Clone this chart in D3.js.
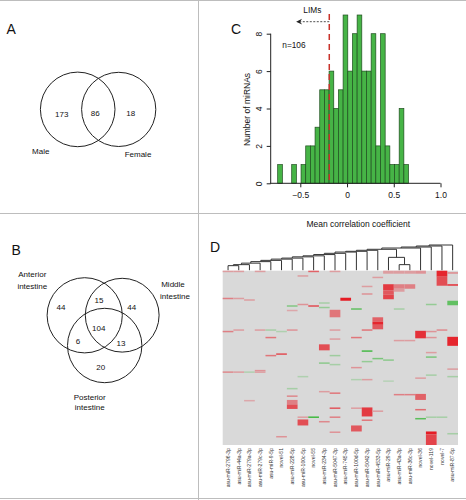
<!DOCTYPE html>
<html><head><meta charset="utf-8">
<script src="https://cdn.jsdelivr.net/npm/d3@7"></script>
<style>
body{margin:0;background:#fff}
svg{display:block}
text{font-family:"Liberation Sans",Arial,Helvetica,sans-serif}
</style>
</head><body>
<svg id="c" width="466" height="500"></svg>
<script>
// ---------------- DATA ----------------
// Panel A: Venn of miRNAs by sex
const vennASets = ["Male", "Female"];
const vennARegions = ["Male only", "Both", "Female only"];
const vennACounts = [173, 86, 18];

// Panel B: Venn by intestine region
const vennBSets = [["Anterior", "intestine"], ["Middle", "intestine"], ["Posterior", "intestine"]];
const vennBRegions = ["A", "M", "P", "AM", "AP", "MP", "AMP"];
const vennBCounts = [44, 44, 20, 15, 6, 13, 104];

// Panel C: histogram of mean correlation coefficient
const histBinLower = [-0.742,-0.692,-0.642,-0.592,-0.542,-0.492,-0.442,-0.392,-0.342,-0.292,
  -0.242,-0.192,-0.142,-0.092,-0.042,0.008,0.058,0.108,0.158,0.208,0.258,0.308,0.358,0.408,
  0.458,0.508,0.558,0.608];
const histBinWidth = 0.05;
const histCounts = [1,0,0,1,0,1,2,2,3,5,5,6,4,5,9,6,8,9,6,6,8,2,8,2,1,1,4,1];
const histXTicks = [-0.5, 0, 0.5, 1.0];
const histYTicks = [0, 2, 4, 6, 8];
const limThreshold = -0.19;
const limArrowTo = -0.545;
const nLabel = "n=106";

// Panel D: heatmap
const heatCols = ["asu-miR-2796-3p","asu-miR-44a-3p","asu-miR-279a-3p","asu-miR-279c-3p","asu-miR-9-5p",
  "novel-51","asu-miR-228-5p","asu-miR-100c-5p","novel-55","asu-miR-234-3p","asu-miR-5047-3p",
  "asu-miR-745-3p","asu-miR-100d-5p","asu-miR-5042-3p","asu-miR-4533-5p","asu-miR-29-3p",
  "asu-miR-43a-3p","asu-miR-36c-3p","novel-36","novel-119","novel-7","asu-miR-87-5p"];
const heatRowCount = 116;
// sparse cells: column index, first row, number of rows, value (+ red / - green)
const cellCol = [0,0,0,0, 1,3,8,10,15,16,17,18,20,20,21,7,14,21,13,15,15,15,16,17,16,13,1,2,11,21,19,7,8,9,6,9,12,6,16,10,
  14,14,14,1,3,4,5,6,10,13,20,18,19,4,12,19,10,16,17,21,9,13,19,5,4,10,19,14,15,13,9,10,12,3,21,1,21,13,
  2,3,7,19,12,15,18,6,9,10,16,17,18,6,6,6,2,10,12,13,14,18,7,8,10,18,19,20,7,13,9,12,10,19,19,21,5];
const cellRow = [0,18,40,67, 0,0,0,0,0,0,0,0,0,4,1,3,4,9,10,9,13,16,9,9,12,15,18,19,18,20,22,22,23,21,23,24,25,26,25,26,
  31,34,36,39,39,39,40,39,39,39,39,40,40,44,44,44,45,46,46,44,49,53,54,55,56,56,57,58,59,60,61,62,64,66,65,67,70,72,
  67,67,70,69,72,73,71,78,80,81,82,82,82,83,86,89,86,91,91,91,93,92,97,97,97,98,97,97,99,99,100,103,107,107,109,108,110];
const cellSpan = [1,1,1,1, 1,1,1,1,2,2,2,2,4,6,1,1,1,1,1,4,3,3,3,3,2,1,1,1,2,3,1,1,1,1,1,1,1,1,1,5,
  3,2,3,1,1,1,1,1,1,1,1,5,1,1,1,1,1,1,1,6,4,1,1,1,1,1,1,1,1,1,1,1,1,1,1,1,1,1,
  1,1,1,1,1,1,1,1,1,1,1,1,4,1,3,3,1,1,1,6,1,1,1,1,1,1,1,1,4,1,1,4,1,2,7,1,1];
const cellVal = [0.3,0.45,0.45,0.4, 0.3,0.3,0.6,0.3,0.3,0.3,0.3,0.35,0.9,0.7,0.4,0.3,0.3,0.85,0.3,0.8,0.65,0.75,0.45,0.45,0.3,0.35,0.3,0.3,0.95,-0.7,-0.4,0.35,0.7,-0.3,-0.5,-0.4,-0.7,0.25,-0.3,0.5,
  0.6,0.9,0.65,0.3,0.3,-0.3,-0.25,0.35,0.3,0.5,0.4,0.85,0.35,0.5,0.5,0.35,0.3,0.3,0.3,0.9,0.7,-0.85,0.3,0.7,0.5,-0.35,-0.55,-0.55,-0.45,-0.4,-0.45,-0.3,0.35,0.35,0.3,0.3,-0.3,0.3,
  -0.25,0.3,-0.25,-0.3,-0.25,-0.2,0.3,-0.3,0.3,0.5,0.45,0.45,0.6,0.4,0.45,0.7,0.25,0.65,0.3,0.8,0.3,0.55,0.3,-0.9,0.45,-0.75,-0.3,-0.3,0.7,0.5,0.4,0.65,0.35,0.95,0.75,-0.3,0.35];

// Column dendrogram (R hclust style): negative = leaf index+1, positive = merge number
const dendMergeL = [-1,1,2,3,4,5,6,7,8,9,10,11,12,13,-17,-16,14,17,18,19,20];
const dendMergeR = [-2,-3,-4,-5,-6,-7,-8,-9,-10,-11,-12,-13,-14,-15,-18,15,16,-19,-20,-21,-22];
const dendHeight = [0.18,0.22,0.28,0.34,0.39,0.44,0.48,0.53,0.57,0.62,0.67,0.72,0.75,0.79,0.22,0.51,0.83,0.88,0.92,0.96,1.0];

// ---------------- DRAW ----------------
const svg = d3.select("#c");
const ink = "#222";

// panel dividers
const dividers = [[0,0.5,466,0.5],[0,213.5,466,213.5],[0,498.5,466,498.5],[198.5,0,198.5,500]];
svg.selectAll("line.div").data(dividers).join("line").attr("class","div")
  .attr("x1",d=>d[0]).attr("y1",d=>d[1]).attr("x2",d=>d[2]).attr("y2",d=>d[3])
  .attr("stroke","#bdbdbd").attr("stroke-width",1);

// panel letters
const letters = [["A",6.5,33.5],["B",11.5,254.5],["C",231,33.5],["D",210,251.5]];
svg.selectAll("text.letter").data(letters).join("text").attr("class","letter")
  .attr("x",d=>d[1]).attr("y",d=>d[2]).text(d=>d[0])
  .attr("font-size",14).attr("fill","#111");

// ---- Panel A
const gA = svg.append("g");
const vennACircles = [{cx:77.7,cy:109.4,r:37.3},{cx:118.7,cy:109.4,r:37.1}];
gA.selectAll("circle").data(vennASets).join("circle")
  .attr("cx",(d,i)=>vennACircles[i].cx).attr("cy",(d,i)=>vennACircles[i].cy).attr("r",(d,i)=>vennACircles[i].r)
  .attr("fill","none").attr("stroke",ink).attr("stroke-width",1);
const vennAPos = [[61.7,114.2],[95.3,113.6],[130.7,113.6]];
gA.selectAll("text.cnt").data(vennACounts).join("text").attr("class","cnt")
  .attr("x",(d,i)=>vennAPos[i][0]).attr("y",(d,i)=>vennAPos[i][1]).attr("dy","0.35em")
  .attr("text-anchor","middle").attr("font-size",8).attr("fill","#111").text(d=>d);
const vennALabelPos = [[40.7,151],[138,154]];
gA.selectAll("text.lab").data(vennASets).join("text").attr("class","lab")
  .attr("x",(d,i)=>vennALabelPos[i][0]).attr("y",(d,i)=>vennALabelPos[i][1]).attr("dy","0.35em")
  .attr("text-anchor","middle").attr("font-size",8).attr("fill","#111").text(d=>d);

// ---- Panel B
const gB = svg.append("g");
const vennBCircles = [{cx:84.7,cy:315.3,r:37.6},{cx:122.2,cy:315.2,r:36.9},{cx:104.7,cy:345.5,r:37.2}];
gB.selectAll("circle").data(vennBSets).join("circle")
  .attr("cx",(d,i)=>vennBCircles[i].cx).attr("cy",(d,i)=>vennBCircles[i].cy).attr("r",(d,i)=>vennBCircles[i].r)
  .attr("fill","none").attr("stroke",ink).attr("stroke-width",1);
const vennBPos = {A:[61,307.3],M:[131.7,307.3],P:[100.7,366.7],AM:[99,300],AP:[78,340.7],MP:[121,342.7],AMP:[98.7,327.7]};
gB.selectAll("text.cnt").data(vennBRegions).join("text").attr("class","cnt")
  .attr("x",d=>vennBPos[d][0]).attr("y",d=>vennBPos[d][1]).attr("dy","0.35em")
  .attr("text-anchor","middle").attr("font-size",8).attr("fill","#111")
  .text((d,i)=>vennBCounts[i]);
const vennBLabelPos = [[32.3,274,285.7],[173,284.3,295.7],[89.7,396.7,406.7]];
vennBSets.forEach((lines,i)=>{
  lines.forEach((t,j)=>{
    gB.append("text").attr("x",vennBLabelPos[i][0]+(j===1&&i===1?2:0)).attr("y",vennBLabelPos[i][1+j]).attr("dy","0.35em")
      .attr("text-anchor","middle").attr("font-size",8).attr("fill","#111").text(t);
  });
});

// ---- Panel C
const gC = svg.append("g");
const hx = d3.scaleLinear().domain([-0.5,1.0]).range([300.3,440.5]);
const hy = d3.scaleLinear().domain([0,8]).range([183.3,33.7]);
gC.selectAll("rect.bar").data(histCounts).join("rect").attr("class","bar")
  .attr("x",(d,i)=>hx(histBinLower[i])).attr("width",(d,i)=>hx(histBinLower[i]+histBinWidth)-hx(histBinLower[i]))
  .attr("y",d=>hy(d)).attr("height",d=>hy(0)-hy(d))
  .attr("fill","#46b446").attr("stroke","#1e4d1e").attr("stroke-width",0.7)
  .style("display",d=>d>0?null:"none");
// x axis
const xAx = gC.append("g").attr("transform",`translate(0,${hy(0)})`)
  .call(d3.axisBottom(hx).tickValues(histXTicks).tickSize(4).tickFormat(d=>d===1?"1.0":d===0?"0":d3.format(".1f")(d)));
xAx.select(".domain").attr("d",`M${hx(-0.825)},0H${hx(1.0)}`).attr("stroke",ink);
xAx.selectAll(".tick line").attr("stroke",ink);
xAx.selectAll(".tick text").attr("font-size",8.5).attr("fill","#111").attr("y",8.5).attr("font-family","Liberation Sans, Arial, sans-serif");
// y axis
const yAx = gC.append("g").attr("transform",`translate(270.7,0)`)
  .call(d3.axisLeft(hy).tickValues(histYTicks).tickSize(4));
yAx.select(".domain").attr("d",`M0,${hy(8)}V${hy(0)}`).attr("stroke",ink);
yAx.selectAll(".tick line").attr("stroke",ink);
yAx.selectAll(".tick text").attr("font-size",8.5).attr("fill","#111").attr("font-family","Liberation Sans, Arial, sans-serif")
  .attr("x",null).attr("dy",null).attr("text-anchor","middle")
  .attr("transform","translate(-9,0) rotate(-90)");
gC.append("text").attr("transform",`translate(247.5,${(hy(0)+hy(8))/2+1}) rotate(-90)`)
  .attr("text-anchor","middle").attr("dy","0.35em").attr("font-size",8.5).attr("fill","#111").text("Number of miRNAs");
gC.append("text").attr("x",358.3).attr("y",224).attr("dy","0.35em").attr("text-anchor","middle")
  .attr("font-size",8.5).attr("fill","#111").text("Mean correlation coefficient");
// threshold line and LIMs arrow
gC.append("line").attr("x1",hx(limThreshold)).attr("x2",hx(limThreshold)).attr("y1",14).attr("y2",hy(0))
  .attr("stroke","#c8322a").attr("stroke-width",1.5).attr("stroke-dasharray","6,4");
gC.append("line").attr("x1",hx(limThreshold)).attr("x2",hx(limArrowTo)+2).attr("y1",21.7).attr("y2",21.7)
  .attr("stroke",ink).attr("stroke-width",0.8).attr("stroke-dasharray","2,1.5");
const ax0 = hx(limArrowTo);
gC.append("path").attr("d",`M${ax0},21.7 L${ax0+6},18.8 L${ax0+4},21.7 L${ax0+6},24.6 Z`).attr("fill",ink);
gC.append("text").attr("x",312.3).attr("y",10).attr("dy","0.35em").attr("text-anchor","middle")
  .attr("font-size",8.3).attr("fill","#111").text("LIMs");
gC.append("text").attr("x",282.3).attr("y",45).attr("dy","0.35em")
  .attr("font-size",8.3).attr("fill","#111").text(nLabel);

// ---- Panel D heatmap
const gD = svg.append("g");
const cx = d3.scaleBand().domain(heatCols).range([222.7,458]);
const ry = d3.scaleLinear().domain([0,heatRowCount]).range([270.7,445]);
const base = "#d9d9d9";
const redI = d3.interpolateRgb(base,"#e6121b");
const grnI = d3.interpolateRgb(base,"#2fb52f");
const col = v => v>=0 ? redI(v) : grnI(-v);
gD.append("rect").attr("x",cx.range()[0]).attr("y",ry(0)).attr("width",cx.range()[1]-cx.range()[0])
  .attr("height",ry(heatRowCount)-ry(0)).attr("fill",base);
gD.selectAll("rect.cell").data(cellVal).join("rect").attr("class","cell")
  .attr("x",(d,i)=>cx(heatCols[cellCol[i]])).attr("width",cx.bandwidth())
  .attr("y",(d,i)=>ry(cellRow[i])).attr("height",(d,i)=>ry(cellRow[i]+cellSpan[i])-ry(cellRow[i]))
  .attr("fill",d=>col(d));
gD.selectAll("text.col").data(heatCols).join("text").attr("class","col")
  .attr("transform",d=>`translate(${cx(d)+cx.bandwidth()/2},448) rotate(-90)`)
  .attr("text-anchor","end").attr("dy","0.35em").attr("font-size",5.1).attr("fill","#333").text(d=>d);

// dendrogram
const dy = d3.scaleLinear().domain([0,1]).range([270.2,245]);
const nodeX = [], nodeH = [];
const getX = k => k<0 ? cx(heatCols[-k-1])+cx.bandwidth()/2 : nodeX[k-1];
const getH = k => k<0 ? 0 : nodeH[k-1];
const dendPaths = [];
dendHeight.forEach((h,i)=>{
  const l = dendMergeL[i], r = dendMergeR[i];
  const xl = getX(l), xr = getX(r);
  dendPaths.push(`M${xl},${dy(getH(l))}V${dy(h)}H${xr}V${dy(getH(r))}`);
  nodeX.push((xl+xr)/2); nodeH.push(h);
});
gD.selectAll("path.dend").data(dendPaths).join("path").attr("class","dend")
  .attr("d",d=>d).attr("fill","none").attr("stroke","#333").attr("stroke-width",1);
</script>
</body></html>
